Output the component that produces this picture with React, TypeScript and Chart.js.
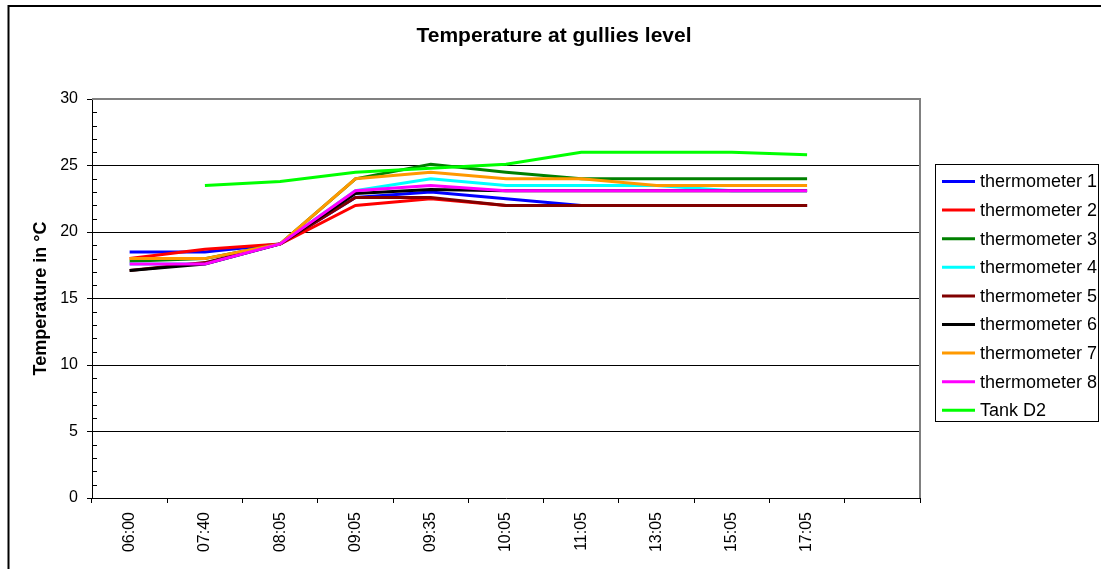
import React, { useEffect, useRef } from 'react';
import { Chart, registerables } from 'chart.js';

Chart.register(...registerables);

const FONT = "'Liberation Sans', Arial, sans-serif";

const chartTitle = 'Temperature at gullies level';
const yAxisTitle = 'Temperature in °C';

const categories = ['06:00', '07:40', '08:05', '09:05', '09:35', '10:05', '11:05', '13:05', '15:05', '17:05', ''];

const seriesNames = [
  'thermometer 1',
  'thermometer 2',
  'thermometer 3',
  'thermometer 4',
  'thermometer 5',
  'thermometer 6',
  'thermometer 7',
  'thermometer 8',
  'Tank D2',
];

const seriesColors = ['#0000FF', '#FF0000', '#008000', '#00FFFF', '#800000', '#000000', '#FF9900', '#FF00FF', '#00FF00'];

const thermometer1 = [18.5, 18.5, 19.1, 22.6, 23.0, 22.5, 22.0, 22.0, 22.0, 22.0];
const thermometer2 = [18.0, 18.7, 19.1, 22.0, 22.5, 22.0, 22.0, 22.0, 22.0, 22.0];
const thermometer3 = [17.8, 18.0, 19.1, 24.0, 25.1, 24.5, 24.0, 24.0, 24.0, 24.0];
const thermometer4 = [17.6, 17.6, 19.1, 23.1, 24.0, 23.5, 23.5, 23.5, 23.1, 23.1];
const thermometer5 = [17.1, 17.7, 19.1, 22.6, 22.6, 22.0, 22.0, 22.0, 22.0, 22.0];
const thermometer6 = [17.1, 17.6, 19.1, 22.9, 23.2, 23.1, 23.1, 23.1, 23.1, 23.1];
const thermometer7 = [18.0, 18.0, 19.1, 24.0, 24.5, 24.0, 24.0, 23.5, 23.5, 23.5];
const thermometer8 = [17.6, 17.6, 19.1, 23.1, 23.5, 23.1, 23.1, 23.1, 23.1, 23.1];
const tankD2 = [null, 23.5, 23.8, 24.5, 24.8, 25.1, 26.0, 26.0, 26.0, 25.8];

const seriesValues = [
  thermometer1,
  thermometer2,
  thermometer3,
  thermometer4,
  thermometer5,
  thermometer6,
  thermometer7,
  thermometer8,
  tankD2,
];

const yMin = 0;
const yMax = 30;
const yMajorStep = 5;
const yMinorStep = 1;

const framePlugin = {
  id: 'frame',
  beforeDraw(chart: any) {
    const { ctx, width, height } = chart;
    ctx.save();
    ctx.fillStyle = '#FFFFFF';
    ctx.fillRect(0, 0, width, height);
    ctx.strokeStyle = '#000000';
    ctx.lineWidth = 2;
    ctx.beginPath();
    ctx.moveTo(8.5, height + 2);
    ctx.lineTo(8.5, 6);
    ctx.lineTo(width + 2, 6);
    ctx.stroke();
    ctx.restore();
  },
};

const plotPlugin = {
  id: 'plotExtras',
  beforeDatasetsDraw(chart: any) {
    const { ctx, chartArea } = chart;
    const y = chart.scales.y;
    ctx.save();
    ctx.strokeStyle = '#808080';
    ctx.lineWidth = 2;
    ctx.beginPath();
    ctx.moveTo(chartArea.left, chartArea.top);
    ctx.lineTo(chartArea.right, chartArea.top);
    ctx.lineTo(chartArea.right, chartArea.bottom);
    ctx.stroke();
    ctx.strokeStyle = '#000000';
    ctx.lineWidth = 1;
    ctx.beginPath();
    for (let v = yMin; v <= yMax; v += yMinorStep) {
      if (v % yMajorStep === 0) continue;
      const py = Math.round(y.getPixelForValue(v)) + 0.5;
      ctx.moveTo(chartArea.left, py);
      ctx.lineTo(chartArea.left + 5, py);
    }
    ctx.stroke();
    ctx.restore();
  },
};

const legendPlugin = {
  id: 'boxLegend',
  afterDraw(chart: any) {
    const { ctx } = chart;
    const boxLeft = 935.5;
    const boxTop = 164.5;
    const boxW = 163;
    const boxH = 257;
    ctx.save();
    ctx.fillStyle = '#FFFFFF';
    ctx.fillRect(boxLeft, boxTop, boxW, boxH);
    ctx.strokeStyle = '#000000';
    ctx.lineWidth = 1;
    ctx.strokeRect(boxLeft, boxTop, boxW, boxH);
    ctx.font = `18px ${FONT}`;
    ctx.textBaseline = 'middle';
    ctx.textAlign = 'left';
    chart.data.datasets.forEach((ds: any, i: number) => {
      const cy = 181.5 + i * 28.6;
      ctx.strokeStyle = ds.borderColor;
      ctx.lineWidth = 3;
      ctx.beginPath();
      ctx.moveTo(942, cy);
      ctx.lineTo(975, cy);
      ctx.stroke();
      ctx.fillStyle = '#000000';
      ctx.fillText(ds.label, 980, cy + 1);
    });
    ctx.restore();
  },
};

export default function App() {
  const canvasRef = useRef<HTMLCanvasElement | null>(null);

  useEffect(() => {
    if (!canvasRef.current) return;
    const datasets = seriesNames.map((name, i) => ({
      label: name,
      data: seriesValues[i],
      borderColor: seriesColors[i],
      backgroundColor: seriesColors[i],
      borderWidth: 3,
      pointRadius: 0,
      pointHoverRadius: 0,
      tension: 0,
      fill: false,
      spanGaps: false,
      order: 10 - i,
      yAxisID: 'y',
    }));

    const chart = new Chart(canvasRef.current, {
      type: 'line',
      data: { labels: categories, datasets },
      options: {
        animation: false,
        responsive: false,
        devicePixelRatio: 1,
        layout: { padding: { top: 0, right: 0, bottom: 0, left: 7 } },
        plugins: {
          legend: { display: false },
          tooltip: { enabled: false },
          title: {
            display: true,
            text: chartTitle,
            color: '#000000',
            font: { family: FONT, size: 21, weight: 'bold' },
            padding: { top: 24, bottom: 49.8 },
          },
        },
        scales: {
          x: {
            type: 'category',
            offset: true,
            grid: {
              offset: true,
              drawOnChartArea: false,
              drawTicks: true,
              tickLength: 5,
              color: '#000000',
              tickColor: '#000000',
            },
            border: { display: true, color: '#000000', width: 1 },
            ticks: {
              autoSkip: false,
              minRotation: 90,
              maxRotation: 90,
              padding: 9,
              color: '#000000',
              font: { family: FONT, size: 16 },
            },
            afterFit(scale: any) {
              scale.height = 71;
            },
          },
          y: {
            position: 'left',
            min: yMin,
            max: yMax,
            grid: {
              drawTicks: true,
              tickLength: 5,
              color: (ctx: any) => {
                const v = ctx.tick ? ctx.tick.value : 0;
                return v % yMajorStep === 0 && v !== yMin && v !== yMax ? '#000000' : 'rgba(0,0,0,0)';
              },
              tickColor: (ctx: any) => {
                const v = ctx.tick ? ctx.tick.value : 0;
                return v % yMajorStep === 0 ? '#000000' : 'rgba(0,0,0,0)';
              },
            },
            border: { display: true, color: '#000000', width: 1 },
            ticks: {
              stepSize: yMinorStep,
              autoSkip: false,
              padding: 9,
              color: '#000000',
              font: { family: FONT, size: 16 },
              callback: (value: any) => (Number(value) % yMajorStep === 0 ? String(value) : ''),
            },
            title: {
              display: true,
              text: yAxisTitle,
              color: '#000000',
              font: { family: FONT, size: 18, weight: 'bold' },
              padding: { top: 23, bottom: 0 },
            },
            afterFit(scale: any) {
              scale.width = 85;
            },
          },
          legendSpace: {
            type: 'linear',
            position: 'right',
            min: yMin,
            max: yMax,
            display: true,
            grid: { display: false, drawOnChartArea: false, drawTicks: false },
            border: { display: false },
            ticks: { display: false },
            afterFit(scale: any) {
              scale.width = 181;
            },
          },
        },
      },
      plugins: [framePlugin, plotPlugin, legendPlugin],
    });

    return () => {
      chart.destroy();
    };
  }, []);

  return (
    <div style={{ position: 'fixed', left: 0, top: 0, width: 1101, height: 569, overflow: 'hidden' }}>
      <canvas ref={canvasRef} width={1101} height={569} style={{ position: 'absolute', left: 0, top: 0 }} />
    </div>
  );
}
